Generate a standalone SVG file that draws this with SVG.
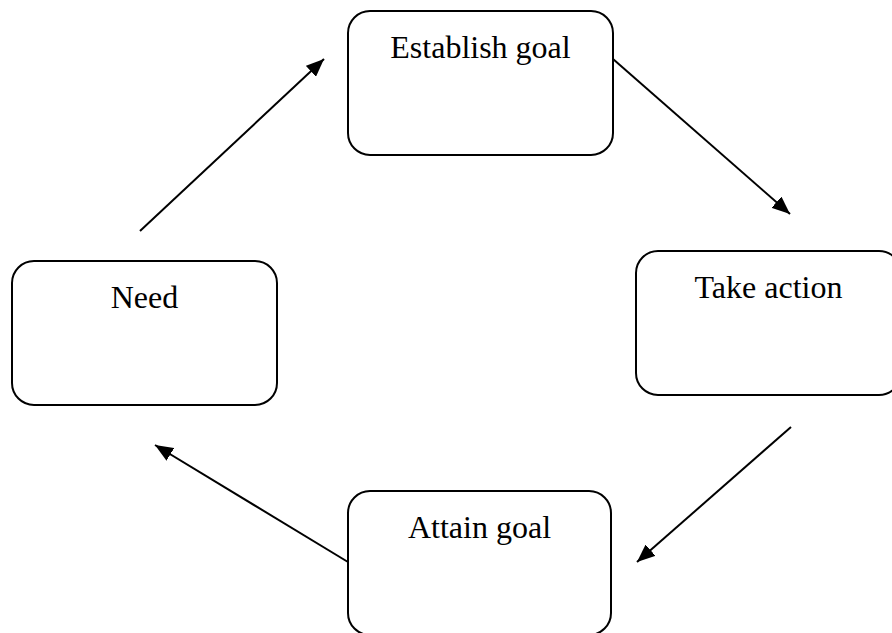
<svg xmlns="http://www.w3.org/2000/svg" width="892" height="633" viewBox="0 0 892 633">
<style>
.box{fill:#fff;stroke:#000;stroke-width:2}
.lbl{font-family:"Liberation Serif","Times New Roman",serif;font-size:32px;fill:#000;text-anchor:middle}
.edge{stroke:#000;stroke-width:2;fill:none;marker-end:url(#ah)}
</style>
<defs>
<marker id="ah" markerUnits="userSpaceOnUse" markerWidth="19" markerHeight="15" refX="18" refY="7.5" orient="auto">
<path d="M0,0 L18,7.5 L0,15 z" fill="#000"/>
</marker>
</defs>
<rect width="892" height="633" fill="#fff"/>
<g id="n-establish">
<rect class="box" x="348" y="11" width="265" height="144" rx="22" ry="22"/>
<text class="lbl" x="480.5" y="58">Establish goal</text>
</g>
<g id="n-need">
<rect class="box" x="12" y="261" width="265" height="144" rx="22" ry="22"/>
<text class="lbl" x="144.5" y="308">Need</text>
</g>
<g id="n-take">
<rect class="box" x="636" y="251" width="265" height="144" rx="22" ry="22"/>
<text class="lbl" x="768.5" y="298">Take action</text>
</g>
<g id="n-attain">
<rect class="box" x="348" y="491" width="263" height="144" rx="22" ry="22"/>
<text class="lbl" x="479.5" y="538">Attain goal</text>
</g>
<g id="connectors">
<line class="edge" x1="140" y1="231" x2="324" y2="59"/>
<line class="edge" x1="613" y1="59" x2="790" y2="214"/>
<line class="edge" x1="791" y1="427" x2="637" y2="562"/>
<line class="edge" x1="348" y1="562" x2="155" y2="445"/>
</g>
</svg>
